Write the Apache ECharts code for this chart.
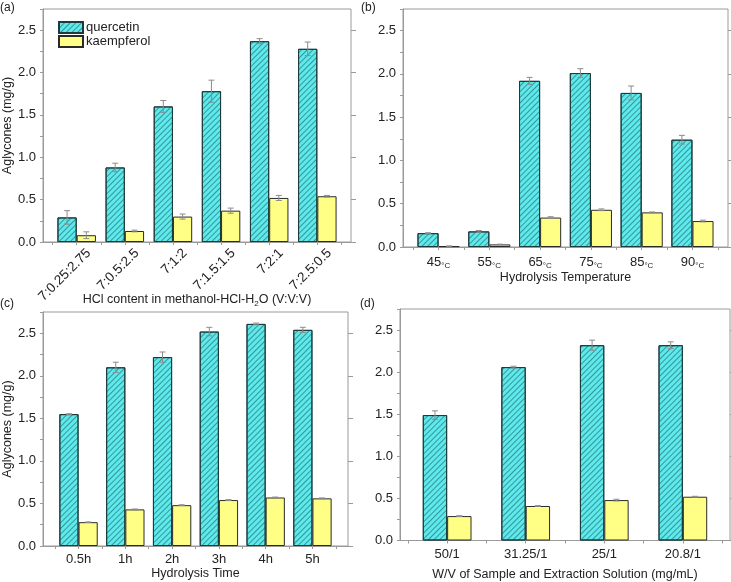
<!DOCTYPE html>
<html><head><meta charset="utf-8">
<script src="https://cdn.jsdelivr.net/npm/echarts@6/dist/echarts.min.js"></script>
<style>html,body{margin:0;padding:0;background:#fff}#c{width:731px;height:582px}</style>
</head><body><div id="c"></div><script>
// ---- data ----
const catsA = ['7:0.25:2.75','7:0.5:2.5','7:1:2','7:1.5:1.5','7:2:1','7:2.5:0.5'];
const querA = [0.29,0.88,1.60,1.78,2.37,2.28];
const querAErr = [0.08,0.05,0.07,0.13,0.03,0.08];
const kaemA = [0.08,0.13,0.30,0.37,0.52,0.54];
const kaemAErr = [0.04,0.01,0.03,0.03,0.03,0.01];

const catsB = ['45','55','65','75','85','90'];
const querB = [0.16,0.18,1.92,2.01,1.78,1.24];
const querBErr = [0.005,0.01,0.04,0.05,0.08,0.05];
const kaemB = [0.01,0.03,0.34,0.43,0.40,0.30];
const kaemBErr = [0.003,0.003,0.01,0.01,0.005,0.01];

const catsC = ['0.5h','1h','2h','3h','4h','5h'];
const querC = [1.55,2.10,2.22,2.52,2.61,2.54];
const querCErr = [0.005,0.06,0.06,0.05,0.01,0.03];
const kaemC = [0.28,0.43,0.48,0.54,0.57,0.56];
const kaemCErr = [0.003,0.005,0.005,0.005,0.005,0.005];

const catsD = ['50/1','31.25/1','25/1','20.8/1'];
const querD = [1.49,2.06,2.32,2.32];
const querDErr = [0.05,0.01,0.06,0.04];
const kaemD = [0.29,0.41,0.48,0.52];
const kaemDErr = [0.005,0.005,0.01,0.005];

const yTicks = [0,0.5,1.0,1.5,2.0,2.5];
const seriesNames = ['quercetin','kaempferol'];

// ---- styling ----
const FONT = 'Liberation Sans, Arial, Helvetica, sans-serif';
const AX = '#9a9a9a';
const TXT = '#222';
const CYAN = '#5ee9eb';
const YEL = '#ffff85';

const panels = [
  {cats:catsA, q:querA, qe:querAErr, k:kaemA, ke:kaemAErr,
   grid:{left:43,top:9,width:308,height:233}, xmin:-0.7, xmax:5.7, gap:0.2,
   xname:'{n|HCl content in methanol-HCl-H}{s|2}{n|O (V:V:V)}', nameGap:50, noMove:true, rotate:45, labShift:0.25, yname:'Aglycones (mg/g)'},
  {cats:catsB, q:querB, qe:querBErr, k:kaemB, ke:kaemBErr,
   grid:{left:403,top:9,width:325,height:238}, xmin:-0.7, xmax:5.7, gap:0.17,
   xname:'{n|Hydrolysis Temperature}', nameGap:22, rotate:0, labShift:0, deg:true, yname:''},
  {cats:catsC, q:querC, qe:querCErr, k:kaemC, ke:kaemCErr,
   grid:{left:43,top:312,width:305,height:234}, xmin:-0.76, xmax:5.76, gap:0.18,
   xname:'{n|Hydrolysis Time}', nameGap:20, rotate:0, labShift:0, yname:'Aglycones (mg/g)'},
  {cats:catsD, q:querD, qe:querDErr, k:kaemD, ke:kaemDErr,
   grid:{left:400,top:309,width:330,height:233}, xmin:-0.6, xmax:3.6, gap:0.38,
   xname:'{n|W/V of Sample and Extraction Solution (mg/mL)}', nameGap:26, rotate:0, labShift:0, yname:''}
];

const grids = [], xAxes = [], yAxes = [], series = [];

function errRender(off){
  return function(params, api){
    const x = api.value(0) + off, y = api.value(1), e = api.value(2);
    const t = api.coord([x, y + e]), b = api.coord([x, y - e]);
    const w = 3;
    const st = {stroke:'#8c8c8c', lineWidth:1};
    return {type:'group', children:[
      {type:'line', shape:{x1:t[0],y1:t[1],x2:b[0],y2:b[1]}, style:st},
      {type:'line', shape:{x1:t[0]-w,y1:t[1],x2:t[0]+w,y2:t[1]}, style:st},
      {type:'line', shape:{x1:b[0]-w,y1:b[1],x2:b[0]+w,y2:b[1]}, style:st}
    ]};
  };
}

panels.forEach((p, gi) => {
  grids.push(Object.assign({show:true, borderColor:AX, borderWidth:1, backgroundColor:'transparent'}, p.grid));
  const n = p.cats.length;
  const tickVals = [];
  for (let i = -1; i < 2*n; i++) tickVals.push(i/2);
  const labVals = p.cats.map((c,i)=>i + p.labShift);
  const xa = {
    type:'value', gridIndex:gi, min:p.xmin, max:p.xmax,
    splitLine:{show:false},
    axisLine:{onZero:false, lineStyle:{color:AX}},
    axisTick:{customValues:tickVals, length:3, lineStyle:{color:AX}},
    axisLabel:{customValues:labVals, rotate:p.rotate, margin:p.rotate?9:7, color:TXT, fontSize:p.rotate?13.5:13, fontFamily:FONT,
      formatter: v => { const c = p.cats[Math.round(v - p.labShift)]; return p.deg ? '{a|'+c+'}{b|°C}' : c; },
      rich:{a:{fontSize:13, fontFamily:FONT, color:TXT, lineHeight:16, verticalAlign:'middle'},
            b:{fontSize:8, fontFamily:FONT, color:TXT, lineHeight:8, verticalAlign:'bottom'}}},
    name:p.xname, nameLocation:'middle', nameGap:p.nameGap,
    nameTextStyle:{rich:{n:{fontSize:12.5, fontFamily:FONT, color:TXT, lineHeight:16, verticalAlign:'middle'},
                         s:{fontSize:8, fontFamily:FONT, color:TXT, lineHeight:8, verticalAlign:'bottom'}}}
  };
  if (p.noMove) xa.nameMoveOverlap = false;
  xAxes.push(xa);
  yAxes.push({
    type:'value', gridIndex:gi, min:0, max:2.75, interval:0.25,
    splitLine:{show:false},
    axisLine:{show:true, onZero:false, lineStyle:{color:AX}},
    axisTick:{show:true, length:3, lineStyle:{color:AX}},
    axisLabel:{customValues:yTicks, formatter:v=>v.toFixed(1), color:TXT, fontSize:13, fontFamily:FONT, margin:7},
    name:p.yname, nameLocation:'middle', nameGap:28,
    nameTextStyle:{fontSize:12.5, fontFamily:FONT, color:TXT}
  });
  yAxes.push({
    type:'value', gridIndex:gi, min:0, max:2.75, interval:0.25,
    splitLine:{show:false},
    axisLine:{show:false, onZero:false},
    axisTick:{show:true, customValues:yTicks, length:5, lineStyle:{color:AX}},
    axisLabel:{show:false}
  });
  const yi = gi*2;
  const bw = (1 - p.gap)/2;
  series.push({
    name:seriesNames[0], type:'bar', xAxisIndex:gi, yAxisIndex:yi,
    barGap:'0%', barCategoryGap:(p.gap*100)+'%',
    data:p.q.map((v,i)=>[i,v]),
    itemStyle:{color:CYAN, borderColor:'#1d3b3b', borderWidth:1,
      decal:{symbol:'rect', symbolSize:1, dashArrayX:[1,0], dashArrayY:[1,2.2], rotation:-Math.PI/4, color:'rgba(25,95,105,0.6)'}}
  });
  series.push({
    name:seriesNames[1], type:'bar', xAxisIndex:gi, yAxisIndex:yi,
    barGap:'0%', barCategoryGap:(p.gap*100)+'%',
    data:p.k.map((v,i)=>[i,v]),
    itemStyle:{color:YEL, borderColor:'#2a2a2a', borderWidth:1}
  });
  series.push({
    name:'qerr'+gi, type:'custom', xAxisIndex:gi, yAxisIndex:yi, z:5,
    renderItem:errRender(-bw/2), encode:{x:0,y:1},
    data:p.q.map((v,i)=>[i,v,p.qe[i]])
  });
  series.push({
    name:'kerr'+gi, type:'custom', xAxisIndex:gi, yAxisIndex:yi, z:5,
    renderItem:errRender(bw/2), encode:{x:0,y:1},
    data:p.k.map((v,i)=>[i,v,p.ke[i]])
  });
});

const chart = echarts.init(document.getElementById('c'), null, {renderer:'canvas'});
chart.setOption({
  animation:false,
  backgroundColor:'#fff',
  textStyle:{fontFamily:FONT},
  grid:grids, xAxis:xAxes, yAxis:yAxes, series:series,
  legend:{data:seriesNames, orient:'vertical', left:53, top:16, itemWidth:24, itemHeight:11, itemGap:1,
    icon:'rect', textStyle:{fontSize:13, fontFamily:FONT, color:TXT, padding:[0,0,0,-2]}},
  graphic:[
    {type:'text', left:0, top:2, style:{text:'(a)', fontSize:12, fontFamily:FONT, fill:TXT}},
    {type:'text', left:361, top:2, style:{text:'(b)', fontSize:12, fontFamily:FONT, fill:TXT}},
    {type:'text', left:0, top:298, style:{text:'(c)', fontSize:12, fontFamily:FONT, fill:TXT}},
    {type:'text', left:360, top:298, style:{text:'(d)', fontSize:12, fontFamily:FONT, fill:TXT}}
  ]
});
</script></body></html>
